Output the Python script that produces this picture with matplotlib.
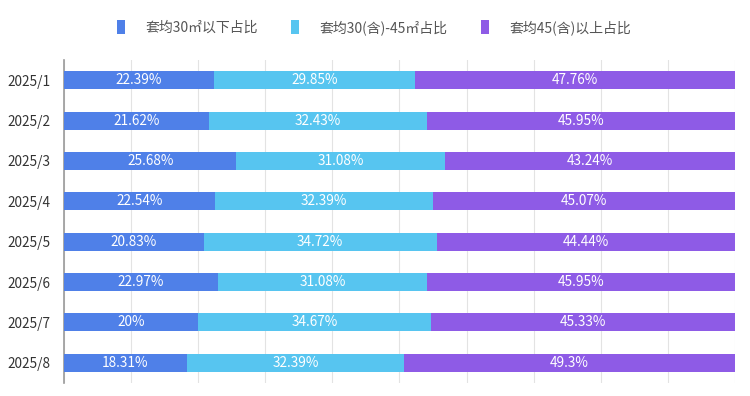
import numpy as np
import matplotlib.pyplot as plt
from matplotlib.patches import Patch

plt.rcParams['font.family'] = ['Noto Sans CJK SC', 'DejaVu Sans']

months = ["2025/1", "2025/2", "2025/3", "2025/4", "2025/5", "2025/6", "2025/7", "2025/8"]
below_30 = [22.39, 21.62, 25.68, 22.54, 20.83, 22.97, 20, 18.31]
between_30_45 = [29.85, 32.43, 31.08, 32.39, 34.72, 31.08, 34.67, 32.39]
above_45 = [47.76, 45.95, 43.24, 45.07, 44.44, 45.95, 45.33, 49.3]
series_names = ["套均30㎡以下占比", "套均30(含)-45㎡占比", "套均45(含)以上占比"]
colors = ["#4F80E8", "#57C5F0", "#8E5BE6"]


def fmt(v):
    return f"{v:g}%"


def plot_share():
    fig = plt.figure(figsize=(7.5, 3.96), dpi=100)
    ax = fig.add_axes([0.0853, 0.033, 0.8947, 0.8155])

    y = np.arange(len(months))
    left = np.zeros(len(months))
    for vals, name, c in zip([below_30, between_30_45, above_45], series_names, colors):
        vals = np.array(vals, dtype=float)
        bars = ax.barh(y, vals, left=left, height=0.445, color=c, label=name, zorder=3)
        for b, v in zip(bars, vals):
            ax.text(b.get_x() + b.get_width() / 2, b.get_y() + b.get_height() / 2, fmt(v),
                    ha="center", va="center", color="white", fontsize=9.8, zorder=4)
        left += vals

    ax.set_xlim(0, 100)
    ax.set_ylim(len(months) - 0.5, -0.5)
    ax.set_yticks(y)
    ax.set_yticklabels(months, fontsize=9.8, color="#333333")
    ax.set_xticks(np.arange(0, 101, 10))
    ax.tick_params(axis="x", length=0, labelbottom=False)
    ax.tick_params(axis="y", length=0, pad=10)
    ax.grid(axis="x", color="#E3E3E3", linewidth=0.8, zorder=0)
    for s in ["top", "right", "bottom"]:
        ax.spines[s].set_visible(False)
    ax.spines["left"].set_color("#9A9A9A")
    ax.spines["left"].set_linewidth(1.2)

    handles = [Patch(facecolor=c, edgecolor="none") for c in colors]
    fig.legend(handles, series_names, loc="center", bbox_to_anchor=(0.499, 0.931), ncol=3,
               frameon=False, fontsize=10, handlelength=0.55, handleheight=1.1,
               handletextpad=1.5, columnspacing=2.4, labelcolor="#555555")

    fig.savefig("out.png", dpi=100)


if __name__ == "__main__":
    plot_share()
